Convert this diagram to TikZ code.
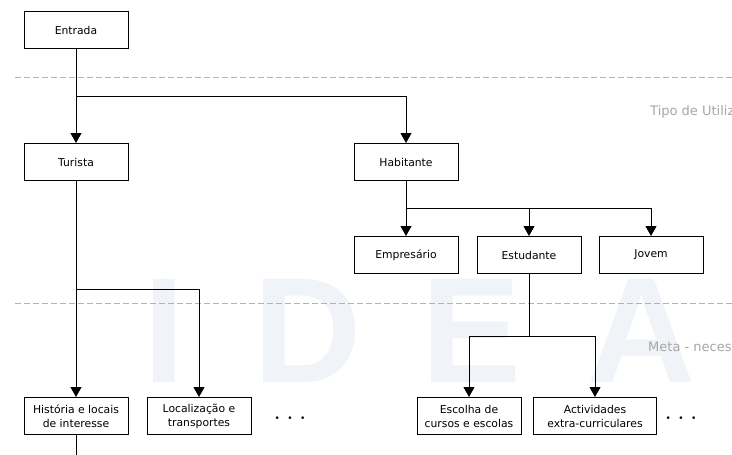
\documentclass[tikz,border=0pt]{standalone}
\usepackage{fontspec}
\setmainfont{DejaVu Sans}
\newfontfamily\wmfont{Liberation Sans}
\usetikzlibrary{arrows.meta}
\tikzset {>={Triangle[width=11pt,length=10pt]}}
\definecolor{wmblue}{RGB}{240,243,248}

\begin{document}
\begin{tikzpicture}[x=1pt,y=-1pt,
  box/.style={draw,line width=1pt,minimum width=104pt,minimum height=37pt,
    inner sep=2pt,align=center,font=\fontsize{10.8}{14}\selectfont},
  sep/.style={draw=black!30,dash pattern=on 6pt off 3pt,line width=.8pt},
  level/.style={text=black!35,anchor=west,inner sep=0pt,
    font=\fontsize{13}{15}\selectfont},
  wmark/.style={text=wmblue,inner sep=0pt,
    font=\wmfont\bfseries\fontsize{150}{150}\selectfont},
  conn/.style={line width=1pt}]
\useasboundingbox (0,0) rectangle (732,455);
\clip (0,0) rectangle (732,455);
% watermark
\foreach \n/\x in {I/164,D/308,E/472,A/642}
  \node[wmark] (wm\n) at (\x,331) {\n};
% levels
\draw[sep] (15,77) -- (732,77);
\draw[sep] (15,303) -- (732,303);
\node[level] (tipo) at (650,112) {Tipo de Utilizador};
\node[level] (meta) at (648,347) {Meta - necessidade};
% boxes
\node[box] (entrada) at (76,30) {Entrada};
\node[box] (turista) at (76,162) {Turista};
\node[box] (habitante) at (406,162) {Habitante};
\foreach \n/\x/\t in {empresario/406/Empresário,estudante/529/Estudante,jovem/651/Jovem}
  \node[box] (\n) at (\x,255) {\t};
\node[box] (historia) at (76,416) {História e locais\\de interesse};
\node[box] (localizacao) at (199,416) {Localização e\\transportes};
\node[box] (escolha) at (469,416) {Escolha de\\cursos e escolas};
\node[box,minimum width=123pt] (actividades) at (595,416) {Actividades\\extra-curriculares};
\foreach \n/\x in {1/290,2/681}
  \node[font=\fontsize{9}{9}\selectfont,inner sep=0pt] (dots\n) at (\x,419)
    {•\hspace{7.5pt}•\hspace{7.5pt}•};
% connectors
\coordinate (split1) at (76,96);
\coordinate (split2) at (406,208);
\coordinate (split3) at (76,289);
\coordinate (split4) at (529,336);
\coordinate (bottom) at (76,455);
\draw[conn,->] (entrada) -- (turista);
\draw[conn,->] (split1) -| (habitante);
\draw[conn,->] (habitante) -- (empresario);
\foreach \n in {estudante,jovem}
  \draw[conn,->] (split2) -| (\n);
\draw[conn,->] (turista) -- (historia);
\draw[conn,->] (split3) -| (localizacao);
\draw[conn] (estudante) -- (split4);
\foreach \n in {escolha,actividades}
  \draw[conn,->] (split4) -| (\n);
\draw[conn] (historia) -- (bottom);
\end{tikzpicture}
\end{document}
